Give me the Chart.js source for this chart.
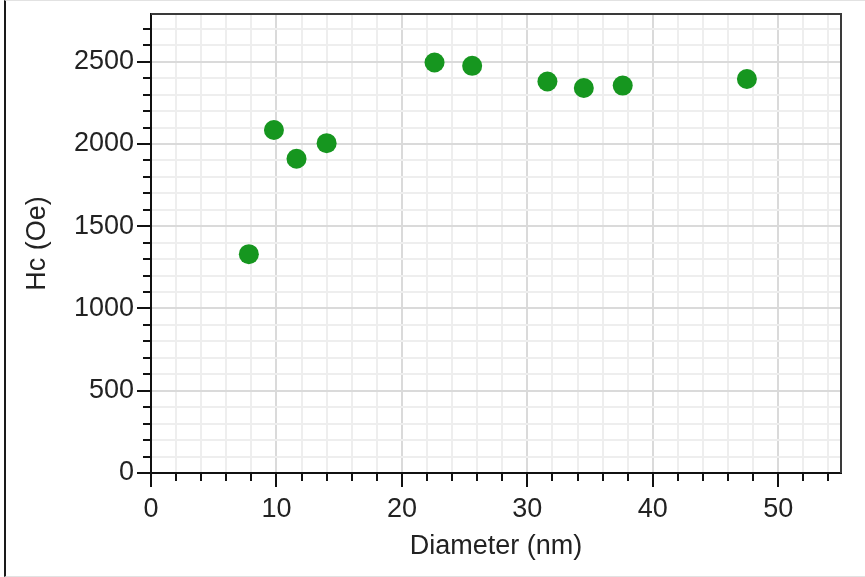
<!DOCTYPE html>
<html>
<head>
<meta charset="utf-8">
<script src="https://cdn.jsdelivr.net/npm/chart.js@4.4.1/dist/chart.umd.min.js"></script>
<style>
  html, body { margin: 0; padding: 0; background: #fff; }
  #frame {
    position: absolute; left: 4px; top: 0; width: 859px; height: 575px;
    border-left: 2px solid #1a1a1a;
    border-top: 1px solid #e2e2e2;
    border-bottom: 1px solid #e2e2e2;
  }
  #chart { position: absolute; left: 0; top: 0; }
</style>
</head>
<body>
<div id="frame"></div>
<canvas id="chart" width="865" height="577"></canvas>
<script>
// data
var diameter = [7.8, 9.8, 11.6, 14.0, 22.6, 25.6, 31.6, 34.5, 37.6, 47.5];
var hc = [1330, 2085, 1910, 2005, 2495, 2475, 2380, 2340, 2355, 2395];

var xTickLabels = [0, 10, 20, 30, 40, 50];
var yTickLabels = [0, 500, 1000, 1500, 2000, 2500];
var xMinorStep = 2;
var yMinorStep = 100;

var X_MAX = 55;
var Y_MAX = 2790;
var FONT = '"Liberation Sans", Arial, sans-serif';

function stepTicks(step, max) {
    var out = [];
    for (var v = 0; v < max; v += step) out.push({ value: v });
    return out;
}

// outward tick marks (long on labelled ticks) + top/right frame of the plot
var tickMarks = {
    id: 'tickMarks',
    afterDraw: function (chart) {
        var ctx = chart.ctx;
        var a = chart.chartArea;
        var x = chart.scales.x;
        var y = chart.scales.y;
        ctx.save();
        ctx.strokeStyle = '#3a3a3a';
        ctx.lineWidth = 2;
        ctx.beginPath();
        ctx.moveTo(a.left, a.top);
        ctx.lineTo(a.right, a.top);
        ctx.lineTo(a.right, a.bottom);
        ctx.stroke();

        ctx.strokeStyle = '#111';
        ctx.beginPath();
        x.ticks.forEach(function (t) {
            var px = Math.round(x.getPixelForValue(t.value));
            var len = xTickLabels.indexOf(t.value) >= 0 ? 14 : 8;
            ctx.moveTo(px, a.bottom);
            ctx.lineTo(px, a.bottom + len);
        });
        y.ticks.forEach(function (t) {
            var py = Math.round(y.getPixelForValue(t.value));
            var len = yTickLabels.indexOf(t.value) >= 0 ? 14 : 8;
            ctx.moveTo(a.left, py);
            ctx.lineTo(a.left - len, py);
        });
        ctx.stroke();
        ctx.restore();
    }
};

var options = {
    type: 'scatter',
    data: {
        datasets: [{
            data: diameter.map(function (d, i) { return { x: d, y: hc[i] }; }),
            backgroundColor: '#16961f',
            borderColor: '#16961f',
            borderWidth: 0,
            pointRadius: 10,
            pointHoverRadius: 10
        }]
    },
    options: {
        responsive: false,
        animation: false,
        layout: {
            padding: { top: 14, right: 24, bottom: 0, left: 0 }
        },
        plugins: {
            legend: { display: false },
            tooltip: { enabled: false }
        },
        scales: {
            x: {
                type: 'linear',
                min: 0,
                max: X_MAX,
                afterBuildTicks: function (s) { s.ticks = stepTicks(xMinorStep, X_MAX); },
                afterFit: function (s) {
                    s.height = 104;
                    s.paddingLeft = 0;
                    s.paddingRight = 0;
                },
                ticks: {
                    autoSkip: false,
                    maxRotation: 0,
                    padding: 20,
                    color: '#222',
                    font: { family: FONT, size: 27 },
                    callback: function (v) {
                        return xTickLabels.indexOf(v) >= 0 ? String(v) : '';
                    }
                },
                grid: {
                    drawTicks: false,
                    lineWidth: 2,
                    color: function (c) {
                        return c.tick && c.tick.value % 10 === 0 ? '#dadada' : '#eeeeee';
                    }
                },
                border: { display: true, color: '#111', width: 2 },
                title: {
                    display: true,
                    text: 'Diameter (nm)',
                    color: '#222',
                    font: { family: FONT, size: 27 },
                    padding: { top: 0, bottom: 14 }
                }
            },
            y: {
                type: 'linear',
                min: 0,
                max: Y_MAX,
                afterBuildTicks: function (s) { s.ticks = stepTicks(yMinorStep, Y_MAX); },
                afterFit: function (s) {
                    s.width = 151;
                    s.paddingTop = 0;
                    s.paddingBottom = 0;
                },
                ticks: {
                    autoSkip: false,
                    padding: 17,
                    color: '#222',
                    font: { family: FONT, size: 27 },
                    callback: function (v) {
                        return yTickLabels.indexOf(v) >= 0 ? String(v) : '';
                    }
                },
                grid: {
                    drawTicks: false,
                    lineWidth: 2,
                    color: function (c) {
                        return c.tick && c.tick.value % 500 === 0 ? '#dadada' : '#eeeeee';
                    }
                },
                border: { display: true, color: '#111', width: 2 },
                title: {
                    display: true,
                    text: 'Hc (Oe)',
                    color: '#222',
                    font: { family: FONT, size: 27 },
                    padding: { top: 21, bottom: 0 }
                }
            }
        }
    },
    plugins: [tickMarks]
};

var chart = new Chart(document.getElementById('chart'), options);
</script>
</body>
</html>
